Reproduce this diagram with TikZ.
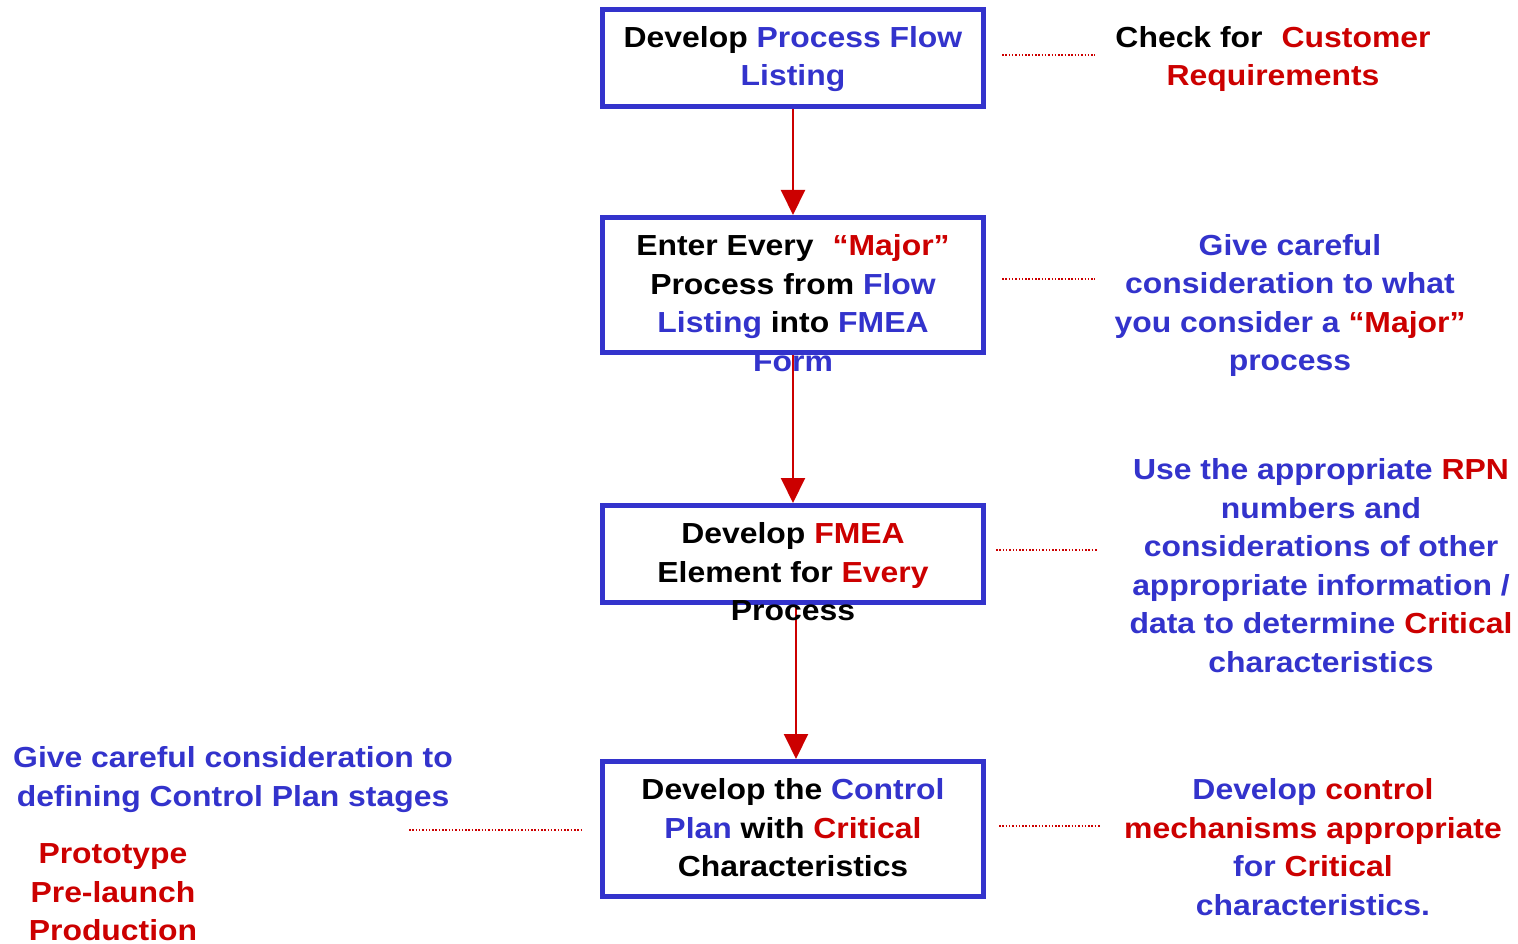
\documentclass[tikz,border=0pt]{standalone}
\usepackage{fontspec}
\setmainfont[FakeStretch=1.1]{Liberation Sans}
\usetikzlibrary{arrows.meta}
\definecolor{myblue}{RGB}{51,51,204}
\definecolor{myred}{RGB}{204,0,0}
\newcommand{\bl}[1]{\textcolor{myblue}{#1}}
\newcommand{\rd}[1]{\textcolor{myred}{#1}}
\tikzset{
  stepbox/.style={draw=myblue, line width=5pt, rectangle, inner sep=0pt, fill=none},
  txt/.style={align=center, inner sep=0pt, font=\fontsize{29}{38.5}\selectfont\bfseries},
  flow/.style={draw=myred, line width=2pt, -{Triangle[width=24pt,length=25pt]}},
  dotline/.style={draw=myred, line width=1.5pt, dash pattern=on 1.5pt off 1.8pt}
}
\begin{document}
\begin{tikzpicture}[x=1pt,y=-1pt]
\useasboundingbox (0,0) rectangle (1518,944);
\fill[white] (0,0) rectangle (1518,944);
% boxes
\node[stepbox, minimum width=381pt, minimum height=97pt] (b1) at (793,58) {};
\node[stepbox, minimum width=381pt, minimum height=135pt] (b2) at (793,285) {};
\node[stepbox, minimum width=381pt, minimum height=97pt] (b3) at (793,554) {};
\node[stepbox, minimum width=381pt, minimum height=135pt] (b4) at (793,829) {};
% arrows
\draw[flow] (b1.south) -- (b2.north);
\draw[flow] (b2.south) -- (b3.north);
\draw[flow] ([xshift=3pt]b3.south) -- ([xshift=3pt]b4.north);
% box texts
\node[txt] (t1) at (793,59) {Develop \bl{Process Flow}\\\bl{Listing}};
\node[txt] (t2) at (793,303) {Enter Every\hspace{0.35em} \rd{“Major”}\\Process from \bl{Flow}\\\bl{Listing} into \bl{FMEA}\\\bl{Form}};
\node[txt] (t3) at (793,572) {Develop \rd{FMEA}\\Element for \rd{Every}\\Process};
\node[txt] (t4) at (793,828) {Develop the \bl{Control}\\\bl{Plan} with \rd{Critical}\\Characteristics};
% side texts
\node[txt] (r1) at (1273,59) {Check for\hspace{0.35em} \rd{Customer}\\\rd{Requirements}};
\node[txt, text=myblue] (r2) at (1290,305.5) {Give careful\\consideration to what\\you consider a \rd{“Major”}\\process};
\node[txt, text=myblue] (r3) at (1321,565.5) {Use the appropriate \rd{RPN}\\numbers and\\considerations of other\\appropriate information /\\data to determine \rd{Critical}\\characteristics};
\node[txt, text=myblue] (r4) at (1313,847) {Develop \rd{control}\\\rd{mechanisms appropriate}\\for \rd{Critical}\\characteristics.};
\node[txt, text=myblue] (l1) at (233,779.5) {Give careful consideration to\\defining Control Plan stages};
\node[txt, text=myred] (l2) at (113,892.5) {Prototype\\Pre-launch\\Production};
% dotted links
\draw[dotline] (1002,55) -- (1095,55);
\draw[dotline] (1002,279) -- (1095,279);
\draw[dotline] (996,550) -- (1097,550);
\draw[dotline] (999,826) -- (1100,826);
\draw[dotline] (409,830) -- (583,830);
\end{tikzpicture}
\end{document}
